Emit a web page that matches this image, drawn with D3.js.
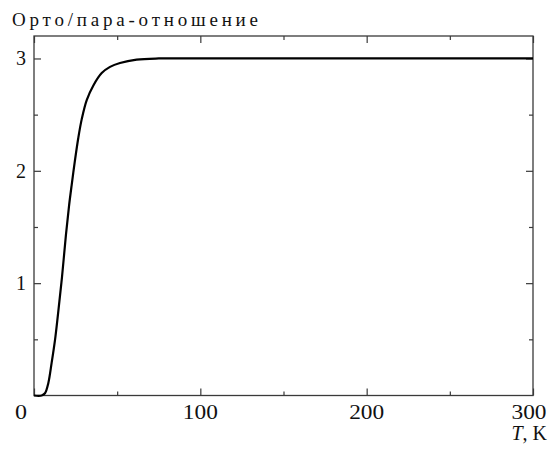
<!DOCTYPE html>
<html>
<head>
<meta charset="utf-8">
<script src="https://cdn.jsdelivr.net/npm/d3@7"></script>
<style>
  body { margin: 0; background: #fff; }
  text { font-family: "Liberation Serif", "DejaVu Serif", serif; fill: #111; }
</style>
</head>
<body>
<svg id="chart" width="557" height="450"></svg>
<script>
// values
var temps = [0, 4.6, 6.6, 8.6, 10.6, 12.6, 14.4, 16.8, 19.2, 21, 22.7, 24.6, 26.6, 28.7, 31.7, 35.7, 40.7, 45.7, 51.7, 61.7, 75, 90, 150, 300];
var ratio = [0, 0, 0.02, 0.11, 0.29, 0.49, 0.72, 1.05, 1.43, 1.68, 1.88, 2.09, 2.29, 2.46, 2.63, 2.76, 2.87, 2.925, 2.96, 2.99, 3.0, 3.0, 3.0, 3.0];
var xMajor = [0, 100, 200, 300];
var xMinor = [50, 150, 250];
var yMajor = [1, 2, 3];
var yMinor = [0.5, 1.5, 2.5];

(function () {
    var svg = d3.select("#chart"),
        left = 34, right = 533, plotTop = 36, bottom = 395.5;

    var x = d3.scaleLinear().domain([0, 300]).range([left, right]);
    var y = d3.scaleLinear().domain([0, 3.2]).range([bottom, plotTop]);

    var axisColor = "#3a3a3a";

    // ticks, drawn with the axes, pointing inward on all four sides
    function tickAxis(axis, vals, size) {
        return axis.tickValues(vals).tickSize(size).tickFormat("");
    }
    [[xMajor, 7], [xMinor, 4]].forEach(function (t) {
        svg.append("g").attr("transform", "translate(0," + bottom + ")")
            .call(tickAxis(d3.axisBottom(x), t[0], -t[1]));
        svg.append("g").attr("transform", "translate(0," + plotTop + ")")
            .call(tickAxis(d3.axisTop(x), t[0], -t[1]));
    });
    [[yMajor, 7], [yMinor, 4]].forEach(function (t) {
        svg.append("g").attr("transform", "translate(" + left + ",0)")
            .call(tickAxis(d3.axisLeft(y), t[0], -t[1]));
        svg.append("g").attr("transform", "translate(" + right + ",0)")
            .call(tickAxis(d3.axisRight(y), t[0], -t[1]));
    });
    svg.selectAll(".domain").remove();
    svg.selectAll(".tick line").attr("stroke", axisColor).attr("stroke-width", 1.2);

    // frame
    svg.append("rect")
        .attr("x", left).attr("y", plotTop)
        .attr("width", right - left).attr("height", bottom - plotTop)
        .attr("fill", "none").attr("stroke", axisColor).attr("stroke-width", 1.3);

    // curve
    var line = d3.line()
        .x(function (d, i) { return x(temps[i]); })
        .y(function (d) { return y(d); })
        .curve(d3.curveCatmullRom.alpha(0.5));

    svg.append("path")
        .datum(ratio)
        .attr("d", line)
        .attr("fill", "none")
        .attr("stroke", "#000")
        .attr("stroke-width", 2.2)
        .attr("stroke-linejoin", "round");

    // tick labels
    svg.selectAll(".xlab")
        .data(xMajor)
        .enter()
        .append("text")
        .attr("class", "xlab")
        .attr("x", function (d) { return d === 0 ? 21 : x(d) - (d === 300 ? 4 : 0); })
        .attr("y", 419)
        .attr("text-anchor", "middle")
        .attr("font-size", 20)
        .attr("textLength", function (d) { return d === 0 ? 12 : 35; })
        .attr("lengthAdjust", "spacingAndGlyphs")
        .text(function (d) { return d; });

    svg.selectAll(".ylab")
        .data(yMajor)
        .enter()
        .append("text")
        .attr("class", "ylab")
        .attr("x", 26)
        .attr("y", function (d) { return y(d) + 7; })
        .attr("text-anchor", "end")
        .attr("font-size", 20)
        .text(function (d) { return d; });

    // titles
    svg.append("text")
        .attr("x", 12).attr("y", 26)
        .attr("font-size", 19)
        .attr("textLength", 246)
        .attr("lengthAdjust", "spacing")
        .text("Орто/пара-отношение");

    var ax = svg.append("text")
        .attr("x", 547).attr("y", 440)
        .attr("text-anchor", "end")
        .attr("font-size", 20);
    ax.append("tspan").attr("font-style", "italic").text("T");
    ax.append("tspan").text(", K");
})();
</script>
</body>
</html>
